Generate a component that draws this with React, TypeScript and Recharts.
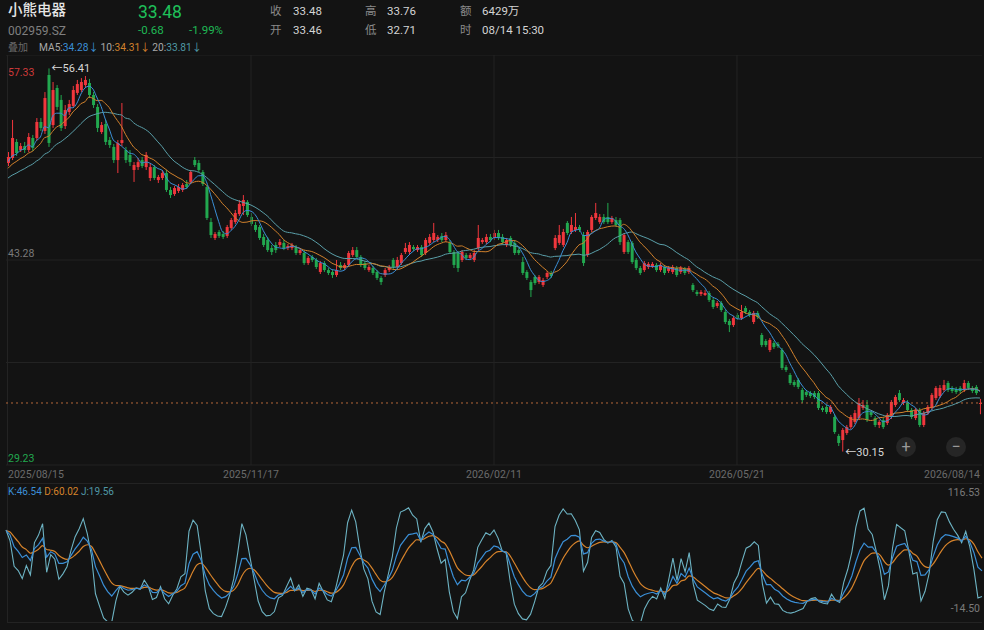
import React from "react";
import {
  ComposedChart,
  Bar,
  Line,
  XAxis,
  YAxis,
  CartesianGrid,
  ReferenceLine,
  ReferenceDot,
} from "recharts";

type OHLC = [number, number, number, number]; // open, high, low, close

// 20 sessions before the visible window (only used to warm up MA / KDJ)
const historyCandles: OHLC[] = [
  [47.39, 47.73, 47.19, 47.53], [47.53, 47.94, 47.39, 47.73], [47.73, 48.08, 47.6, 47.94],
  [47.94, 48.15, 47.67, 47.8], [47.8, 48.28, 47.67, 48.08], [48.08, 48.42, 47.94, 48.28],
  [48.28, 48.49, 48.01, 48.15], [48.15, 48.63, 48.01, 48.42], [48.42, 48.76, 48.28, 48.63],
  [48.63, 48.83, 48.28, 48.49], [48.49, 48.97, 48.35, 48.76], [48.76, 49.11, 48.63, 48.9],
  [48.9, 49.11, 48.56, 48.76], [48.76, 49.31, 48.63, 49.11], [49.11, 49.51, 48.97, 49.31],
  [49.31, 49.65, 49.11, 49.45], [49.45, 49.93, 49.31, 49.72], [49.72, 50.13, 49.58, 49.99],
  [49.99, 50.2, 49.65, 49.79], [49.79, 50.41, 49.65, 50.27],
];

// visible daily candles 2025/08/15 .. 2026/08/14
const candles: OHLC[] = [
  [49.93, 50.68, 49.72, 50.34], [50.27, 52.88, 50.13, 51.64], [51.37, 51.57, 50.41, 50.61], [50.82, 51.3, 50.68, 51.09],
  [51.09, 51.37, 50.61, 50.82], [50.82, 51.98, 50.68, 51.71], [51.64, 51.85, 50.75, 50.96], [51.64, 53.01, 51.44, 52.74],
  [52.74, 53.01, 52.12, 52.33], [52.12, 54.79, 51.92, 54.38], [55.96, 56.41, 51.03, 51.3], [52.53, 55.48, 52.33, 54.93],
  [55.07, 55.27, 53.56, 53.77], [54.25, 54.59, 52.12, 52.33], [52.46, 53.9, 52.26, 53.56], [53.42, 54.25, 53.22, 53.97],
  [53.84, 55.21, 53.7, 54.93], [54.73, 55.62, 54.59, 55.34], [54.93, 55.75, 54.79, 55.48], [55.27, 55.89, 55.07, 55.62],
  [55.41, 55.69, 54.38, 54.59], [54.59, 54.79, 53.7, 53.9], [53.77, 53.97, 52.05, 52.33], [52.05, 52.74, 51.92, 52.53],
  [52.6, 52.88, 51.16, 51.37], [51.5, 51.71, 50.96, 51.16], [51.03, 51.23, 49.93, 50.13], [50.13, 51.5, 49.24, 51.3],
  [51.3, 54.04, 51.09, 51.5], [50.82, 51.03, 49.93, 50.13], [50.48, 50.82, 49.72, 49.99], [49.45, 49.99, 48.63, 49.79],
  [49.65, 50.27, 49.45, 49.99], [50.13, 50.34, 49.58, 49.72], [49.65, 50.68, 49.45, 50.48], [48.9, 49.93, 48.69, 49.65],
  [49.65, 49.79, 48.76, 48.9], [48.76, 49.11, 48.56, 48.97], [48.9, 49.45, 48.76, 49.24], [49.24, 49.45, 47.94, 48.08],
  [48.08, 48.28, 47.53, 47.73], [47.8, 48.35, 47.67, 48.21], [48.01, 48.49, 47.87, 48.28], [48.08, 48.56, 47.94, 48.42],
  [48.49, 48.76, 48.15, 48.28], [48.63, 49.45, 48.49, 49.31], [50.13, 50.34, 49.65, 49.79], [49.93, 50.13, 49.31, 49.45],
  [49.31, 49.45, 48.35, 48.49], [48.28, 48.42, 46.02, 46.16], [45.88, 46.16, 44.79, 44.99], [44.79, 45.2, 44.65, 45.06],
  [45.2, 45.34, 44.79, 44.93], [45.06, 45.27, 44.72, 44.86], [44.93, 45.68, 44.79, 45.54], [45.47, 46.16, 45.34, 46.02],
  [45.88, 46.71, 45.75, 46.5], [46.43, 47.39, 46.3, 47.12], [46.98, 47.73, 46.36, 47.39], [47.26, 47.39, 46.23, 46.36],
  [46.23, 46.5, 45.61, 45.75], [45.68, 45.88, 45.2, 45.34], [45.54, 45.68, 44.65, 44.79], [44.86, 45.06, 44.17, 44.31],
  [44.65, 44.86, 43.83, 43.96], [44.1, 44.31, 43.62, 43.83], [44.31, 44.51, 43.76, 43.96], [44.31, 44.72, 44.17, 44.51],
  [44.45, 44.65, 43.96, 44.1], [44.1, 44.38, 43.96, 44.24], [44.1, 44.45, 43.96, 44.31], [44.17, 44.31, 43.62, 43.76],
  [43.76, 44.1, 43.62, 43.96], [43.76, 43.96, 42.94, 43.07], [43.07, 43.55, 42.94, 43.42], [43.49, 43.62, 43.14, 43.28],
  [43.28, 43.42, 42.66, 42.8], [42.46, 43.21, 42.32, 43.07], [43.07, 43.21, 42.46, 42.59], [42.59, 42.73, 42.25, 42.39],
  [42.46, 42.59, 42.05, 42.25], [42.25, 43.28, 42.12, 42.59], [42.94, 43.14, 42.59, 42.73], [42.73, 43.07, 42.59, 42.94],
  [42.94, 43.9, 42.8, 43.76], [43.62, 44.17, 43.49, 43.96], [43.96, 44.17, 43.42, 43.49], [43.49, 43.62, 42.8, 42.94],
  [43.07, 43.21, 42.59, 42.73], [42.59, 42.94, 42.46, 42.8], [42.73, 42.87, 42.25, 42.39], [42.46, 42.59, 41.91, 42.05],
  [42.05, 42.18, 41.57, 41.77], [42.25, 42.73, 42.12, 42.59], [42.59, 42.94, 42.46, 42.8], [43.28, 43.42, 42.66, 42.8],
  [42.8, 43.49, 42.66, 43.28], [43.07, 43.76, 42.94, 43.62], [43.83, 44.45, 43.69, 44.1], [43.83, 44.51, 43.69, 44.31],
  [44.17, 44.31, 43.9, 44.03], [43.96, 44.31, 43.83, 44.17], [44.17, 44.31, 43.49, 43.62], [43.76, 44.79, 43.62, 44.65],
  [44.45, 45.06, 44.31, 44.86], [44.65, 45.82, 44.51, 45.13], [44.65, 44.99, 44.51, 44.86], [44.93, 45.13, 44.51, 44.65],
  [44.65, 45.2, 44.51, 44.99], [44.45, 44.65, 43.69, 43.83], [43.83, 43.96, 42.73, 42.94], [43.76, 43.9, 42.46, 42.73],
  [43.28, 43.96, 43.14, 43.83], [43.62, 43.76, 43.28, 43.42], [43.42, 43.76, 43.28, 43.62], [43.28, 43.96, 43.14, 43.76],
  [44.1, 45.68, 43.96, 44.79], [44.51, 44.79, 44.38, 44.65], [44.51, 45.06, 44.38, 44.86], [44.86, 45.06, 44.51, 44.65],
  [44.79, 45.34, 44.65, 45.13], [45.13, 45.34, 44.65, 44.79], [44.86, 45.06, 44.38, 44.51], [44.31, 44.79, 44.17, 44.65],
  [44.79, 44.93, 44.17, 44.31], [44.45, 44.65, 43.62, 43.76], [43.96, 44.1, 43.62, 43.76], [43.14, 43.49, 42.25, 42.39],
  [42.46, 42.59, 41.91, 42.05], [41.77, 41.91, 40.74, 41.22], [42.12, 42.25, 41.57, 41.7], [41.77, 42.25, 41.63, 42.12],
  [41.57, 42.05, 41.43, 41.91], [42.12, 42.53, 41.98, 42.39], [42.39, 42.53, 42.05, 42.18], [44.1, 44.99, 43.96, 44.79],
  [44.45, 45.68, 44.31, 44.99], [44.31, 45.41, 44.17, 45.2], [45.82, 45.95, 44.99, 45.13], [45.2, 46.23, 45.06, 45.68],
  [45.34, 46.5, 45.2, 45.54], [45.54, 45.68, 45.2, 45.34], [44.99, 45.2, 42.87, 43.07], [43.62, 45.34, 43.49, 45.2],
  [45.34, 46.36, 45.2, 46.23], [46.16, 47.19, 46.02, 46.5], [45.88, 46.43, 45.75, 46.23], [46.23, 46.43, 45.75, 45.88],
  [46.23, 47.19, 45.75, 45.88], [45.88, 46.3, 45.75, 46.16], [46.02, 46.23, 45.54, 45.68], [46.02, 46.16, 44.31, 44.51],
  [43.83, 45.13, 43.69, 44.99], [44.51, 44.65, 43.69, 43.83], [44.45, 44.58, 43.01, 43.14], [43.28, 43.42, 42.59, 42.73],
  [42.73, 42.87, 42.25, 42.39], [42.59, 43.21, 42.46, 43.07], [42.8, 43.14, 42.66, 43.01], [42.8, 43.14, 42.73, 43.01],
  [42.94, 43.07, 42.46, 42.59], [42.59, 43.07, 42.46, 42.94], [42.8, 42.94, 42.25, 42.39], [42.53, 42.87, 42.39, 42.73],
  [42.46, 42.94, 42.32, 42.8], [42.73, 42.87, 42.12, 42.25], [42.46, 42.87, 42.32, 42.73], [42.66, 42.8, 42.25, 42.39],
  [42.46, 42.87, 42.32, 42.73], [41.57, 41.7, 41.09, 41.22], [41.09, 41.22, 40.81, 40.95], [40.95, 41.22, 40.81, 41.09],
  [40.88, 41.22, 40.81, 41.02], [41.02, 41.16, 40.4, 40.54], [40.54, 40.68, 39.92, 40.06], [40.13, 40.47, 39.99, 40.33],
  [40.33, 40.47, 39.72, 39.85], [39.72, 39.85, 38.89, 39.03], [39.1, 39.24, 38.34, 38.82], [38.82, 39.44, 38.69, 39.3],
  [39.51, 39.65, 39.17, 39.3], [39.3, 40.2, 39.17, 39.72], [39.99, 40.13, 39.58, 39.72], [39.72, 39.85, 39.37, 39.51],
  [39.03, 39.79, 38.89, 39.65], [39.65, 39.79, 39.24, 39.37], [38.14, 38.28, 37.31, 37.45], [37.73, 37.86, 37.31, 37.45],
  [37.11, 37.93, 36.97, 37.8], [37.59, 37.73, 37.18, 37.31], [37.52, 37.66, 37.25, 37.38], [37.11, 37.25, 35.74, 35.88],
  [35.94, 36.08, 35.6, 35.74], [35.4, 35.53, 34.71, 34.85], [34.92, 35.06, 34.58, 34.71], [35.06, 35.19, 34.44, 34.58],
  [34.37, 34.51, 33.48, 33.68], [34.23, 34.37, 33.89, 34.03], [34.16, 34.3, 33.82, 33.96], [34.16, 34.3, 33.75, 33.89],
  [34.16, 34.3, 33.0, 33.14], [33.14, 33.27, 32.86, 33.0], [33.21, 33.34, 32.73, 32.86], [32.86, 33.34, 32.73, 33.21],
  [32.52, 32.66, 31.36, 31.49], [31.22, 31.36, 30.53, 30.74], [30.94, 31.76, 30.15, 31.63], [31.42, 31.97, 31.29, 31.83],
  [31.83, 32.66, 31.7, 32.52], [32.18, 33.0, 32.04, 32.79], [32.45, 33.82, 32.31, 33.48], [33.14, 33.68, 33.0, 33.34],
  [33.34, 33.68, 32.18, 32.31], [32.86, 33.0, 32.52, 32.66], [32.45, 32.59, 31.83, 31.97], [31.97, 32.31, 31.76, 32.18],
  [32.31, 32.45, 31.7, 31.83], [32.11, 32.79, 31.97, 32.66], [32.52, 33.68, 32.38, 33.55], [33.34, 34.03, 33.21, 33.89],
  [34.16, 34.37, 33.55, 33.68], [33.48, 33.82, 33.34, 33.68], [33.48, 33.68, 32.86, 33.0], [33.0, 33.14, 32.38, 32.52],
  [32.45, 33.14, 32.31, 33.0], [33.0, 33.14, 31.83, 31.97], [31.97, 32.93, 31.83, 32.79], [32.79, 33.34, 32.66, 33.21],
  [33.14, 34.16, 33.0, 34.03], [33.82, 34.64, 33.68, 34.51], [33.96, 34.71, 33.82, 34.51], [34.37, 35.06, 34.23, 34.71],
  [34.85, 34.99, 34.23, 34.37], [34.51, 34.64, 34.16, 34.3], [34.44, 34.58, 34.1, 34.23], [34.51, 34.64, 34.16, 34.3],
  [34.37, 35.06, 34.23, 34.85], [34.85, 34.99, 34.37, 34.51], [34.51, 34.64, 34.16, 34.3], [34.58, 34.71, 34.03, 34.16],
  [33.46, 33.76, 32.71, 33.48],
];

const dateLabels = ["2025/08/15", "2025/11/17", "2026/02/11", "2026/05/21", "2026/08/14"];
const dateTickIndex = [0, 60, 120, 180, 240];
const gridIndex = [60, 120, 180];
const priceDomain: [number, number] = [29.23, 57.33];
const priceTicks = [29.23, 36.255, 43.28, 50.305, 57.33];
const priceLabelValues = [57.33, 43.28, 29.23];
const kdjDomain: [number, number] = [-14.5, 116.53];
const kdjTicks = [116.53, -14.5];

const UP = "#f0373d";
const DOWN = "#22a84f";
const MA5C = "#3b8fd6";
const MA10C = "#d1812c";
const MA20C = "#5a9fa9";
const KC = "#3b8fd6";
const DC = "#d6832b";
const JC = "#6db3c3";
const BG = "#131313";
const GRID = "#232323";
const FONT = "Roboto, 'Noto Sans CJK SC', sans-serif";

// ---- derived indicators ----
const allCandles = [...historyCandles, ...candles];
const H = historyCandles.length;
const closes = allCandles.map((c) => c[3]);
function movingAvg(n: number, g: number): number {
  const s = Math.max(0, g - n + 1);
  let sum = 0;
  for (let t = s; t <= g; t++) sum += closes[t];
  return sum / (g - s + 1);
}
const kdjAll: { k: number; d: number; j: number }[] = [];
{
  let K = 50;
  let D = 50;
  for (let g = 0; g < allCandles.length; g++) {
    const s = Math.max(0, g - 8);
    let hh = -Infinity;
    let ll = Infinity;
    for (let t = s; t <= g; t++) {
      hh = Math.max(hh, allCandles[t][1]);
      ll = Math.min(ll, allCandles[t][2]);
    }
    const rsv = hh === ll ? 50 : ((closes[g] - ll) / (hh - ll)) * 100;
    K = (2 * K + rsv) / 3;
    D = (2 * D + K) / 3;
    kdjAll.push({ k: K, d: D, j: 3 * K - 2 * D });
  }
}

const data = candles.map((c, i) => {
  const g = i + H;
  return {
    i,
    open: c[0],
    high: c[1],
    low: c[2],
    close: c[3],
    range: [c[2], c[1]],
    ma5: movingAvg(5, g),
    ma10: movingAvg(10, g),
    ma20: movingAvg(20, g),
    k: kdjAll[g].k,
    d: kdjAll[g].d,
    j: kdjAll[g].j,
  };
});

let maxIdx = 0;
let minIdx = 0;
data.forEach((r, i) => {
  if (r.high > data[maxIdx].high) maxIdx = i;
  if (r.low < data[minIdx].low) minIdx = i;
});
const lastClose = data[data.length - 1].close;

// ---- shapes ----
function Candle(props: any) {
  const { x, y, width, height, payload } = props;
  if (!payload || x == null || y == null) return null;
  const { open, high, low, close } = payload;
  const top = Math.min(y, y + height);
  const total = Math.abs(height);
  const span = high - low;
  const k = span > 0 ? total / span : 0;
  const color = close >= open ? UP : DOWN;
  const bodyTop = top + (high - Math.max(open, close)) * k;
  const bodyH = Math.max(1, Math.abs(close - open) * k);
  const cx = x + width / 2;
  return (
    <g>
      <line x1={cx} x2={cx} y1={top} y2={top + total} stroke={color} strokeWidth={1} />
      <rect x={x} y={bodyTop} width={width} height={bodyH} fill={color} />
    </g>
  );
}

function DateTick(props: any) {
  const { x, y, payload } = props;
  const idx = dateTickIndex.indexOf(payload.value);
  if (idx < 0) return null;
  const anchor = idx === 0 ? "start" : idx === dateTickIndex.length - 1 ? "end" : "middle";
  return (
    <text x={x} y={y + 13} textAnchor={anchor} fill="#6b6b6b" fontSize={10.5} fontFamily={FONT}>
      {dateLabels[idx]}
    </text>
  );
}

function PriceTick(props: any) {
  const { x, y, payload } = props;
  const v = payload.value;
  if (!priceLabelValues.includes(v)) return null;
  const isTop = v === priceDomain[1];
  const isBottom = v === priceDomain[0];
  const color = isTop ? "#cf3a3a" : isBottom ? "#22a84f" : "#7a7a7a";
  return (
    <text x={x + 2} y={isTop ? y + 11.5 : y - 3} textAnchor="start" fill={color} fontSize={10.5} fontFamily={FONT}>
      {v.toFixed(2)}
    </text>
  );
}

function KdjTick(props: any) {
  const { x, y, payload } = props;
  const v = payload.value;
  const isTop = v === kdjDomain[1];
  return (
    <text x={x - 2} y={isTop ? y - 7 : y - 2} textAnchor="end" fill="#7a7a7a" fontSize={10.5} fontFamily={FONT}>
      {v.toFixed(2)}
    </text>
  );
}

function ExtremeLabel(props: any) {
  const { viewBox, text } = props;
  if (!viewBox) return null;
  const cx = viewBox.x + (viewBox.width || 0) / 2;
  const cy = viewBox.y + (viewBox.height || 0) / 2;
  return (
    <text x={cx + 3} y={cy + 4} fill="#d8d8d8" fontSize={11} fontFamily={FONT}>
      {text}
    </text>
  );
}

// ---- header helpers ----
function T({ left, top, size, color, children, weight, lh }: any) {
  return (
    <div
      style={{
        position: "absolute",
        left,
        top,
        fontSize: size,
        lineHeight: (lh || 16) + "px",
        color,
        fontWeight: weight || 400,
        whiteSpace: "nowrap",
      }}
    >
      {children}
    </div>
  );
}

export default function App() {
  const maxRow = data[maxIdx];
  const minRow = data[minIdx];
  return (
    <div
      style={{
        position: "fixed",
        left: 0,
        top: 0,
        width: 984,
        height: 630,
        background: BG,
        fontFamily: FONT,
        overflow: "hidden",
      }}
    >
      {/* header */}
      <T left={8} top={1} size={14.5} color="#e6e6e6" lh={20} weight={500}>小熊电器</T>
      <T left={8} top={23} size={12} color="#7f7f7f">002959.SZ</T>
      <T left={138} top={1} size={17.5} color="#1fc05a" lh={22}>33.48</T>
      <T left={138} top={22} size={11.5} color="#1fb955">-0.68</T>
      <T left={189} top={22} size={11.5} color="#1fb955">-1.99%</T>

      <T left={270} top={3} size={11.5} color="#8a8a8a">收</T>
      <T left={293} top={3} size={11.5} color="#d4d4d4">33.48</T>
      <T left={270} top={22} size={11.5} color="#8a8a8a">开</T>
      <T left={293} top={22} size={11.5} color="#d4d4d4">33.46</T>
      <T left={365} top={3} size={11.5} color="#8a8a8a">高</T>
      <T left={387} top={3} size={11.5} color="#d4d4d4">33.76</T>
      <T left={365} top={22} size={11.5} color="#8a8a8a">低</T>
      <T left={387} top={22} size={11.5} color="#d4d4d4">32.71</T>
      <T left={460} top={3} size={11.5} color="#8a8a8a">额</T>
      <T left={482} top={3} size={11.5} color="#d4d4d4">6429万</T>
      <T left={460} top={22} size={11.5} color="#8a8a8a">时</T>
      <T left={482} top={22} size={11.5} color="#d4d4d4">08/14 15:30</T>

      <T left={8} top={40} size={10} color="#6a6a6a">叠加</T>
      <T left={39} top={40} size={10.2} color="#a8a8a8">
        MA5:<span style={{ color: MA5C }}>34.28↓</span>
        <span style={{ marginLeft: 2 }}>10:</span>
        <span style={{ color: MA10C }}>34.31↓</span>
        <span style={{ marginLeft: 2 }}>20:</span>
        <span style={{ color: "#4f98a6" }}>33.81↓</span>
      </T>

      {/* panel frames */}
      <div style={{ position: "absolute", left: 7, top: 55, width: 1, height: 410, background: GRID }} />
      <div style={{ position: "absolute", left: 7, top: 483, width: 975, height: 140, borderTop: `1px solid ${GRID}`, borderBottom: `1px solid ${GRID}`, borderLeft: `1px solid ${GRID}`, boxSizing: "border-box" }} />

      {/* main price chart */}
      <div style={{ position: "absolute", left: 0, top: 55 }}>
        <ComposedChart width={984} height={428} data={data} margin={{ top: 0, right: 2, left: 6, bottom: 0 }}>
          <CartesianGrid stroke={GRID} vertical={false} />
          <XAxis
            dataKey="i"
            type="category"
            ticks={dateTickIndex}
            interval={0}
            tick={<DateTick />}
            axisLine={false}
            tickLine={false}
            tickSize={0}
            tickMargin={0}
            height={18}
          />
          <YAxis
            domain={priceDomain}
            ticks={priceTicks}
            allowDataOverflow
            mirror
            width={40}
            axisLine={false}
            tickLine={false}
            tickSize={0}
            tickMargin={0}
            tick={<PriceTick />}
          />
          {gridIndex.map((g) => (
            <ReferenceLine key={g} x={g} stroke={GRID} />
          ))}
          <ReferenceLine y={lastClose} stroke="#b5683a" strokeDasharray="2 3" />
          <Bar dataKey="range" shape={<Candle />} barSize={3} isAnimationActive={false} />
          <Line type="monotone" dataKey="ma20" stroke={MA20C} strokeWidth={1} dot={false} activeDot={false} isAnimationActive={false} />
          <Line type="monotone" dataKey="ma10" stroke={MA10C} strokeWidth={1} dot={false} activeDot={false} isAnimationActive={false} />
          <Line type="monotone" dataKey="ma5" stroke={MA5C} strokeWidth={1} dot={false} activeDot={false} isAnimationActive={false} />
          <ReferenceDot x={maxRow.i} y={maxRow.high} r={0} fill="none" stroke="none" label={<ExtremeLabel text={"←" + maxRow.high.toFixed(2)} />} />
          <ReferenceDot x={minRow.i} y={minRow.low} r={0} fill="none" stroke="none" label={<ExtremeLabel text={"←" + minRow.low.toFixed(2)} />} />
        </ComposedChart>
      </div>

      {/* zoom buttons */}
      <div style={{ position: "absolute", left: 896, top: 437, width: 20, height: 20, borderRadius: 10, background: "#262626", color: "#9a9a9a", fontSize: 16, lineHeight: "20px", textAlign: "center" }}>+</div>
      <div style={{ position: "absolute", left: 946, top: 437, width: 20, height: 20, borderRadius: 10, background: "#262626", color: "#9a9a9a", fontSize: 16, lineHeight: "19px", textAlign: "center" }}>−</div>

      {/* KDJ */}
      <T left={8} top={484} size={10} color={KC}>
        K:46.54 <span style={{ color: DC }}>D:60.02</span> <span style={{ color: "#4f98a6" }}>J:19.56</span>
      </T>
      <div style={{ position: "absolute", left: 0, top: 483 }}>
        <ComposedChart width={984} height={140} data={data} margin={{ top: 20, right: 2, left: 6, bottom: 2 }}>
          <XAxis dataKey="i" type="category" hide />
          <YAxis
            domain={kdjDomain}
            ticks={kdjTicks}
            allowDataOverflow
            orientation="right"
            mirror
            width={40}
            axisLine={false}
            tickLine={false}
            tickSize={0}
            tickMargin={0}
            tick={<KdjTick />}
          />
          <Line type="linear" dataKey="j" stroke={JC} strokeWidth={1.1} dot={false} activeDot={false} isAnimationActive={false} />
          <Line type="monotone" dataKey="d" stroke={DC} strokeWidth={1.2} dot={false} activeDot={false} isAnimationActive={false} />
          <Line type="linear" dataKey="k" stroke={KC} strokeWidth={1.2} dot={false} activeDot={false} isAnimationActive={false} />
        </ComposedChart>
      </div>
    </div>
  );
}
